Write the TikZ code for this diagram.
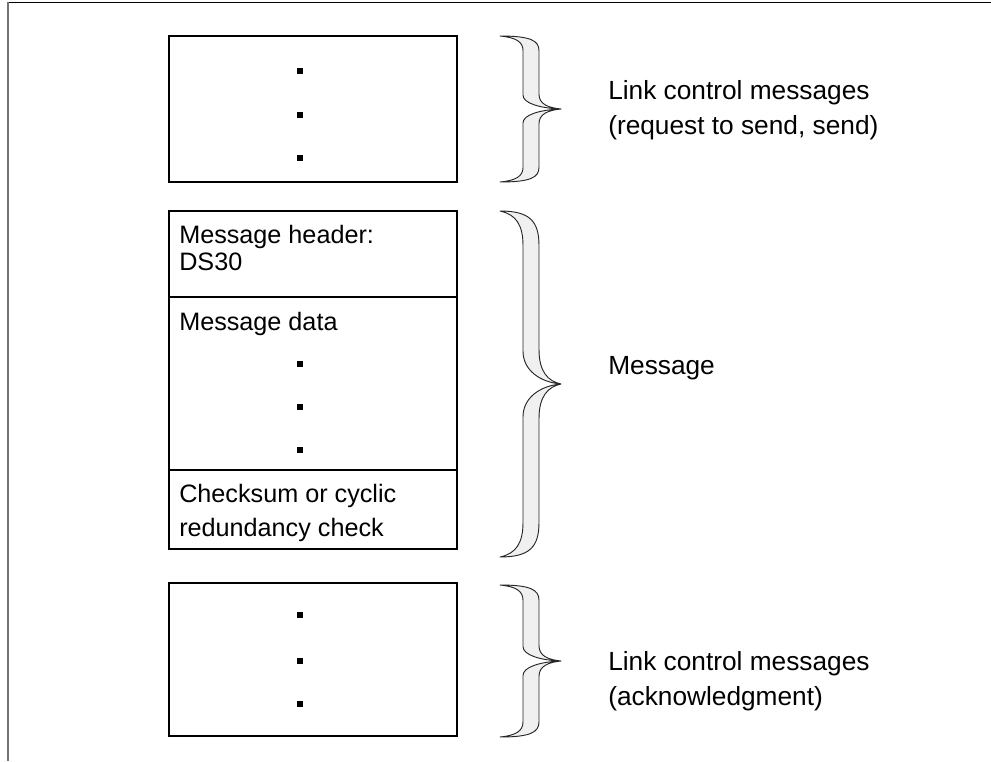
\documentclass[tikz,border=0pt]{standalone}
\usepackage{fontspec}
\setmainfont{Liberation Sans}
\newcommand{\mybrace}[3]{%
  \pgfmathsetmacro\bre{0.2*(#2-#1)}%
  \filldraw[brc] (500,#1) .. controls (530,#1) and (539,#1+0.3*\bre) .. (539,#1+\bre)
   -- (539,#2-\bre) .. controls (539,#2-0.35*\bre) and (548,#2-0.08*\bre) .. (561,#2)
   .. controls (548,#2+0.08*\bre) and (539,#2+0.35*\bre) .. (539,#2+\bre)
   -- (539,#3-\bre) .. controls (539,#3-0.3*\bre) and (530,#3) .. (500,#3)
   .. controls (516,#3-0.1*\bre) and (523,#3-0.4*\bre) .. (523,#3-\bre)
   -- (523,#2+0.95*\bre) .. controls (523,#2+0.4*\bre) and (540,#2+0.05*\bre) .. (561,#2)
   .. controls (540,#2-0.05*\bre) and (523,#2-0.4*\bre) .. (523,#2-0.95*\bre)
   -- (523,#1+\bre) .. controls (523,#1+0.4*\bre) and (516,#1+0.1*\bre) .. (500,#1) -- cycle;}
\begin{document}
\begin{tikzpicture}[x=0.75pt,y=-0.75pt,
  outerbox/.style={draw=black, line width=1.6pt, rectangle, inner sep=0pt, minimum width=216pt},
  midbox/.style={draw=black, line width=1.1pt, rectangle, inner sep=0pt, minimum width=216pt},
  dotmark/.style={fill=black, rectangle, inner sep=0pt, minimum width=4.2pt, minimum height=4.6pt},
  boxtext/.style={anchor=base west, inner sep=0pt, font=\fontsize{18.9}{25}\selectfont},
  lbl/.style={anchor=west, inner sep=0pt, align=left, font=\fontsize{19.7}{26.25}\selectfont},
  brc/.style={fill=black!6, draw=black!85, line width=0.7pt, line join=round}]
\useasboundingbox (0,0) rectangle (991,761);
\fill[white] (0,0) rectangle (991,761);
% frame
\draw[black, line width=0.8pt] (7,2.5) -- (991,2.5);
\draw[black!55, line width=1.5pt] (8,2) -- (8,761);
% top box
\node[outerbox, minimum height=109.5pt] (topbox) at (313,109) {};
\node[dotmark] (t1) at (300,71) {};
\node[dotmark] (t2) at (300,115) {};
\node[dotmark] (t3) at (300,158) {};
% middle box
\node[midbox, minimum height=64.5pt] (hdr) at (313,254) {};
\node[midbox, minimum height=129.75pt] (data) at (313,383.5) {};
\node[midbox, minimum height=59.25pt] (chk) at (313,509.5) {};
\node[boxtext] (hdr1) at (179,243) {Message header:};
\node[boxtext] (hdr2) at (179,270) {DS30};
\node[boxtext] (dat1) at (179,330) {Message data};
\node[dotmark] (m1) at (300,364) {};
\node[dotmark] (m2) at (300,407) {};
\node[dotmark] (m3) at (300,450) {};
\node[boxtext] (chk1) at (179,502) {Checksum or cyclic};
\node[boxtext] (chk2) at (179,536) {redundancy check};
% bottom box
\node[outerbox, minimum height=114.75pt] (botbox) at (313,659.5) {};
\node[dotmark] (b1) at (300,615) {};
\node[dotmark] (b2) at (300,661) {};
\node[dotmark] (b3) at (300,704) {};
% braces
\mybrace{36}{109}{182}
\mybrace{211}{384}{557}
\mybrace{585}{661}{737}
% labels
\node[lbl] (l1) at (608,110) {Link control messages\\(request to send, send)};
\node[lbl] (l2) at (608,368) {Message};
\node[lbl] (l3) at (608,681) {Link control messages\\(acknowledgment)};
\end{tikzpicture}
\end{document}
